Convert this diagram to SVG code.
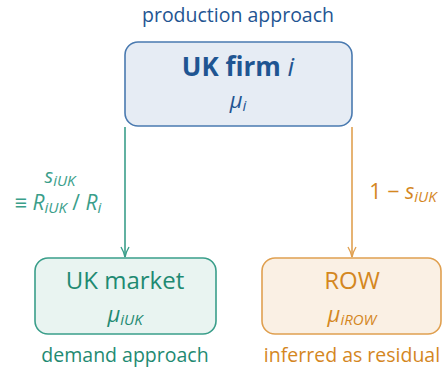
<svg xmlns="http://www.w3.org/2000/svg" width="444" height="368" viewBox="0 0 444 368">
<style>
text{font-family:"Open Sans","Liberation Sans",sans-serif;text-anchor:middle}
.blue{fill:#1f5592}
.teal{fill:#1f8a72}
.lteal{fill:#3a9e8a}
.orng{fill:#d4871f}
.m{font-style:italic}
.cap{font-size:19.5px}
.ttl{font-size:24px}
.mu{font-size:22px}
.sb{font-size:15px}
</style>
<defs>
<marker id="ah-t" viewBox="0 0 12 10" refX="11" refY="5" markerWidth="12" markerHeight="10" markerUnits="userSpaceOnUse" orient="auto">
<path d="M1,1 Q6,4 11,5 Q6,6 1,9" fill="none" stroke="#3a9e8a" stroke-width="1.4"/>
</marker>
<marker id="ah-o" viewBox="0 0 12 10" refX="11" refY="5" markerWidth="12" markerHeight="10" markerUnits="userSpaceOnUse" orient="auto">
<path d="M1,1 Q6,4 11,5 Q6,6 1,9" fill="none" stroke="#e0a050" stroke-width="1.4"/>
</marker>
</defs>
<g id="connectors">
<line x1="125" y1="127" x2="125" y2="257" stroke="#3a9e8a" stroke-width="1.6" marker-end="url(#ah-t)"/>
<line x1="352" y1="127" x2="352" y2="257" stroke="#e0a050" stroke-width="1.6" marker-end="url(#ah-o)"/>
<text class="lteal m" x="60" y="183" font-size="20">s<tspan class="sb" dy="3">iUK</tspan></text>
<text class="lteal" x="58" y="210" font-size="21">≡ <tspan class="m">R</tspan><tspan class="m sb" dy="3">iUK</tspan><tspan dy="-3"> / </tspan><tspan class="m">R</tspan><tspan class="m sb" dy="3">i</tspan></text>
<text class="orng" x="403" y="199" font-size="21.5">1 − <tspan class="m">s</tspan><tspan class="m sb" dy="3">iUK</tspan></text>
</g>
<g id="firm">
<text class="blue cap" x="238" y="22">production approach</text>
<rect x="125" y="42" width="227" height="84" rx="13" fill="#e6ecf4" stroke="#4a7ab0" stroke-width="1.6"/>
<text class="blue" x="238" y="76" font-size="26" font-weight="bold">UK firm <tspan class="m" font-weight="normal">i</tspan></text>
<text class="blue mu m" x="238" y="108">μ<tspan class="sb" dy="3">i</tspan></text>
</g>
<g id="ukmarket">
<rect x="35" y="258" width="181" height="76" rx="13" fill="#e9f4f1" stroke="#3a9e8a" stroke-width="1.6"/>
<text class="teal ttl" x="125" y="289">UK market</text>
<text class="teal mu m" x="125" y="322">μ<tspan class="sb" dy="3">iUK</tspan></text>
<text class="teal cap" x="125" y="362">demand approach</text>
</g>
<g id="row">
<rect x="262" y="258" width="179" height="76" rx="13" fill="#faf0e4" stroke="#e0a050" stroke-width="1.6"/>
<text class="orng ttl" x="352" y="289">ROW</text>
<text class="orng mu m" x="352" y="322">μ<tspan class="sb" dy="3">iROW</tspan></text>
<text class="orng cap" x="352" y="362">inferred as residual</text>
</g>
</svg>
